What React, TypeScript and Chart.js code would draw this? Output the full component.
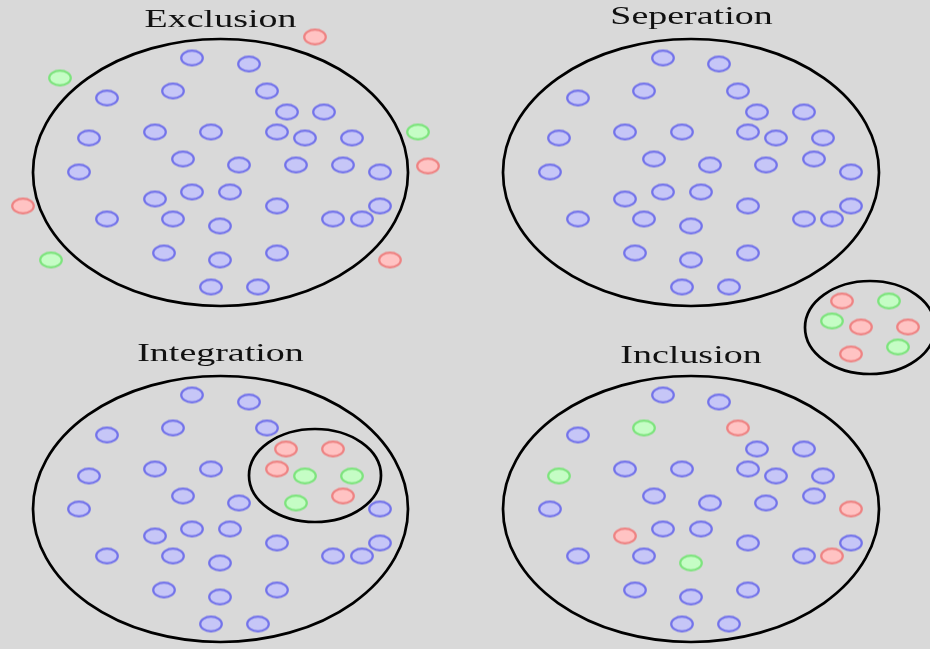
import React, { useEffect, useRef } from 'react';
import { Chart, registerables } from 'chart.js';

Chart.register(...registerables);

// ---- Titles of the four panels ----
const panelTitles = ['Exclusion', 'Seperation', 'Integration', 'Inclusion'];
const titleX = [220.5, 691.5, 220.5, 691];
const titleY = [27, 24, 361, 363]; // baselines

// ---- Group outlines (ellipses): centre and radii ----
const groupNames = ['Exclusion', 'Seperation', 'Seperated group', 'Integration', 'Integrated group', 'Inclusion'];
const groupCX = [220.5, 691, 870, 220.5, 315, 691];
const groupCY = [172.5, 172.5, 327.5, 509, 475.5, 509];
const groupRX = [187.5, 188, 65, 187.5, 66, 188];
const groupRY = [133.5, 133.5, 46.5, 133, 46.5, 133];

// ---- Members: Exclusion ----
const exclusionBlue = [
  [192, 58], [249, 64], [107, 98], [173, 91], [267, 91], [287, 112], [324, 112],
  [89, 138], [155, 132], [211, 132], [277, 132], [305, 138], [352, 138],
  [183, 159], [239, 165], [296, 165], [343, 165], [380, 172], [79, 172],
  [192, 192], [230, 192], [155, 199], [277, 206], [380, 206],
  [107, 219], [173, 219], [220, 226], [333, 219], [362, 219],
  [164, 253], [220, 260], [277, 253], [211, 287], [258, 287],
];
const exclusionRed = [[315, 37], [428, 166], [23, 206], [390, 260]];
const exclusionGreen = [[60, 78], [418, 132], [51, 260]];

// ---- Members: Seperation ----
const seperationBlue = [
  [663, 58], [719, 64], [578, 98], [644, 91], [738, 91], [757, 112], [804, 112],
  [559, 138], [625, 132], [682, 132], [748, 132], [776, 138], [823, 138],
  [654, 159], [710, 165], [766, 165], [814, 159], [851, 172], [550, 172],
  [663, 192], [701, 192], [625, 199], [748, 206], [851, 206],
  [578, 219], [644, 219], [691, 226], [804, 219], [832, 219],
  [635, 253], [691, 260], [748, 253], [682, 287], [729, 287],
];
const seperationRed = [[842, 301], [861, 327], [908, 327], [851, 354]];
const seperationGreen = [[889, 301], [832, 321], [898, 347]];

// ---- Members: Integration ----
const integrationBlue = [
  [192, 395], [249, 402], [107, 435], [173, 428], [267, 428],
  [89, 476], [155, 469], [211, 469], [183, 496], [239, 503],
  [79, 509], [380, 509], [192, 529], [230, 529], [155, 536],
  [277, 543], [380, 543], [107, 556], [173, 556], [220, 563],
  [333, 556], [362, 556], [164, 590], [220, 597], [277, 590],
  [211, 624], [258, 624],
];
const integrationRed = [[286, 449], [333, 449], [277, 469], [343, 496]];
const integrationGreen = [[305, 476], [352, 476], [296, 503]];

// ---- Members: Inclusion ----
const inclusionBlue = [
  [663, 395], [719, 402], [578, 435], [757, 449], [804, 449],
  [625, 469], [682, 469], [748, 469], [776, 476], [823, 476],
  [654, 496], [710, 503], [766, 503], [814, 496], [550, 509],
  [663, 529], [701, 529], [748, 543], [851, 543],
  [578, 556], [644, 556], [804, 556],
  [635, 590], [691, 597], [748, 590], [682, 624], [729, 624],
];
const inclusionRed = [[738, 428], [851, 509], [625, 536], [832, 556]];
const inclusionGreen = [[644, 428], [559, 476], [691, 563]];

const BG = '#d9d9d9';
const BLUE_FILL = '#c6c6f7';
const BLUE_STROKE = '#7373ea';
const RED_FILL = '#ffc3c3';
const RED_STROKE = '#ee8383';
const GREEN_FILL = '#c5fdc5';
const GREEN_STROKE = '#7de47d';

function makeMarker(fill: string, stroke: string): HTMLCanvasElement {
  const c = document.createElement('canvas');
  c.width = 26;
  c.height = 19;
  const ctx = c.getContext('2d')!;
  ctx.beginPath();
  ctx.ellipse(13, 9.5, 10.8, 7.3, 0, 0, Math.PI * 2);
  ctx.fillStyle = fill;
  ctx.fill();
  ctx.lineWidth = 2.2;
  ctx.strokeStyle = stroke;
  ctx.stroke();
  return c;
}

const toXY = (arr: number[][]) => arr.map(([x, y]) => ({ x, y }));

const diagramPlugin = {
  id: 'diagram',
  beforeDraw(chart: any) {
    const { ctx, width, height } = chart;
    ctx.save();
    ctx.fillStyle = BG;
    ctx.fillRect(0, 0, width, height);
    ctx.restore();
  },
  beforeDatasetsDraw(chart: any) {
    const { ctx } = chart;
    const xs = chart.scales.x;
    const ys = chart.scales.y;
    ctx.save();
    ctx.strokeStyle = '#000';
    ctx.lineWidth = 2.7;
    for (let i = 0; i < groupCX.length; i++) {
      const px = xs.getPixelForValue(groupCX[i]);
      const py = ys.getPixelForValue(groupCY[i]);
      const rx = Math.abs(xs.getPixelForValue(groupCX[i] + groupRX[i]) - px);
      const ry = Math.abs(ys.getPixelForValue(groupCY[i] + groupRY[i]) - py);
      ctx.beginPath();
      ctx.ellipse(px, py, rx, ry, 0, 0, Math.PI * 2);
      ctx.stroke();
    }
    ctx.fillStyle = '#111';
    ctx.font = '26px "Liberation Serif", "Times New Roman", serif';
    ctx.textAlign = 'center';
    ctx.textBaseline = 'alphabetic';
    const stretch = 1.46;
    for (let i = 0; i < panelTitles.length; i++) {
      const px = xs.getPixelForValue(titleX[i]);
      const py = ys.getPixelForValue(titleY[i]);
      ctx.save();
      ctx.translate(px, py);
      ctx.scale(stretch, 1);
      ctx.fillText(panelTitles[i], 0, 0);
      ctx.restore();
    }
    ctx.restore();
  },
};

export default function App() {
  const canvasRef = useRef<HTMLCanvasElement | null>(null);

  useEffect(() => {
    const canvas = canvasRef.current;
    if (!canvas) return;
    const blueImg = makeMarker(BLUE_FILL, BLUE_STROKE);
    const redImg = makeMarker(RED_FILL, RED_STROKE);
    const greenImg = makeMarker(GREEN_FILL, GREEN_STROKE);

    const blue = [...exclusionBlue, ...seperationBlue, ...integrationBlue, ...inclusionBlue];
    const red = [...exclusionRed, ...seperationRed, ...integrationRed, ...inclusionRed];
    const green = [...exclusionGreen, ...seperationGreen, ...integrationGreen, ...inclusionGreen];

    const chart = new Chart(canvas, {
      type: 'scatter',
      data: {
        datasets: [
          { label: 'Blue', data: toXY(blue), pointStyle: blueImg as any, pointRadius: 10, clip: false as any },
          { label: 'Red', data: toXY(red), pointStyle: redImg as any, pointRadius: 10, clip: false as any },
          { label: 'Green', data: toXY(green), pointStyle: greenImg as any, pointRadius: 10, clip: false as any },
        ],
      },
      options: {
        animation: false,
        responsive: false,
        devicePixelRatio: 1,
        events: [],
        layout: { padding: 0, autoPadding: false },
        scales: {
          x: { type: 'linear', min: 0, max: 930, display: false },
          y: { type: 'linear', min: 0, max: 649, reverse: true, display: false },
        },
        plugins: {
          legend: { display: false },
          tooltip: { enabled: false },
          title: { display: false },
        },
      },
      plugins: [diagramPlugin],
    });
    return () => chart.destroy();
  }, []);

  return (
    <div style={{ position: 'fixed', left: 0, top: 0, width: 930, height: 649, background: BG }}>
      <canvas ref={canvasRef} width={930} height={649} style={{ display: 'block' }} />
    </div>
  );
}
